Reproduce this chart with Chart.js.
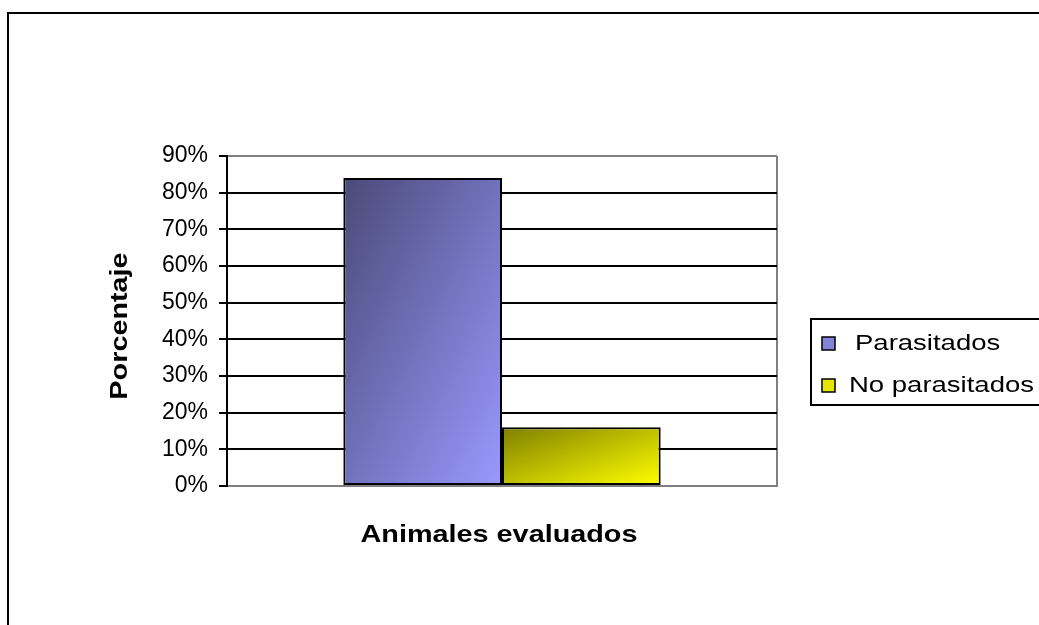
<!DOCTYPE html>
<html>
<head>
<meta charset="utf-8">
<script src="https://cdn.jsdelivr.net/npm/chart.js@4/dist/chart.umd.min.js"></script>
<style>
  html, body { margin: 0; padding: 0; background: #fff; }
  /* marco exterior del gráfico */
  #marco { position: absolute; left: 7px; top: 12px; width: 1100px; height: 700px; border: 2px solid #000; }
  #grafico { position: absolute; left: 0; top: 0; }
</style>
</head>
<body>
<div id="marco"></div>
<canvas id="grafico" width="1039" height="625"></canvas>
<script>
// Datos: porcentaje de animales parasitados y no parasitados
const categorias = [''];
const series = ['Parasitados', 'No parasitados'];
const porcentajes = [84, 16];
const escalaY = { min: 0, max: 90, paso: 10 };
const tituloX = 'Animales evaluados';
const tituloY = 'Porcentaje';

// degradado de cada barra: oscuro arriba-izquierda, claro abajo-derecha
const degradados = [['#4a4a78', '#9999ff'], ['#7f7f00', '#ffff00']];
const muestras = ['#8585d8', '#e6e600'];

Chart.defaults.font.family = "'Liberation Sans', Arial, sans-serif";
Chart.defaults.color = '#000';

// aplica el degradado diagonal a cada barra ya posicionada
const degradadoBarras = {
    id: 'degradadoBarras',
    afterDatasetsUpdate(chart) {
        const ctx = chart.ctx;
        chart.data.datasets.forEach((ds, i) => {
            chart.getDatasetMeta(i).data.forEach(bar => {
                const left = bar.x - bar.width / 2;
                const top = bar.y;
                const w = bar.width;
                const h = bar.base - bar.y;
                const k = 2 * w * h / (w * w + h * h);
                const g = ctx.createLinearGradient(left, top, left + h * k, top + w * k);
                g.addColorStop(0, degradados[i][0]);
                g.addColorStop(1, degradados[i][1]);
                bar.options = Object.assign({}, bar.options, { backgroundColor: g });
            });
        });
    }
};

// texto algo ensanchado en la dirección de escritura
function textoAncho(ctx, texto, x, y, giro, ancho) {
    ctx.save();
    ctx.translate(x, y);
    ctx.rotate(giro);
    ctx.scale(ancho, 1);
    ctx.fillText(texto, 0, 0);
    ctx.restore();
}

// títulos de ejes y leyenda con recuadro a la derecha
const leyendaYTitulos = {
    id: 'leyendaYTitulos',
    afterDraw(chart) {
        const ctx = chart.ctx;
        const area = chart.chartArea;
        ctx.save();
        ctx.fillStyle = '#000';
        ctx.textBaseline = 'middle';

        ctx.font = "bold 24px 'Liberation Sans', Arial, sans-serif";
        ctx.textAlign = 'center';
        textoAncho(ctx, tituloX, (area.left + area.right) / 2 - 3, 535, 0, 1.2);
        textoAncho(ctx, tituloY, 120, 326, -Math.PI / 2, 1.2);

        // recuadro de la leyenda
        ctx.lineWidth = 2;
        ctx.strokeStyle = '#000';
        ctx.strokeRect(811, 319, 240, 86);

        ctx.font = "22px 'Liberation Sans', Arial, sans-serif";
        ctx.textAlign = 'left';
        chart.data.datasets.forEach((ds, i) => {
            const yc = 343 + i * 42;
            ctx.fillStyle = muestras[i];
            ctx.fillRect(822, yc - 6, 13, 13);
            ctx.lineWidth = 1.5;
            ctx.strokeRect(822, yc - 6, 13, 13);
            ctx.fillStyle = '#000';
            textoAncho(ctx, ds.label, i === 0 ? 855 : 849, yc + 1, 0, 1.25);
        });
        ctx.restore();
    }
};

new Chart(document.getElementById('grafico'), {
    type: 'bar',
    data: {
        labels: categorias,
        datasets: series.map((nombre, i) => ({
            label: nombre,
            data: [porcentajes[i]],
            backgroundColor: muestras[i],
            borderColor: '#000',
            borderWidth: 2,
            borderSkipped: false
        }))
    },
    options: {
        responsive: false,
        animation: false,
        layout: { padding: { top: 156, right: 262, bottom: 0, left: 0 } },
        datasets: { bar: { categoryPercentage: 0.577, barPercentage: 1 } },
        plugins: {
            legend: { display: false },
            tooltip: { enabled: false }
        },
        scales: {
            x: {
                ticks: { display: false },
                grid: { color: '#808080', lineWidth: 2, drawTicks: false },
                border: { color: '#808080', width: 2 },
                afterFit: s => { s.height = 139; }
            },
            y: {
                min: escalaY.min,
                max: escalaY.max,
                ticks: {
                    stepSize: escalaY.paso,
                    padding: 11,
                    font: { size: 23 },
                    callback: v => v + '%'
                },
                grid: {
                    color: c => (c.index === 0 || c.index === 9) ? '#808080' : '#000',
                    lineWidth: 2,
                    tickColor: '#000',
                    tickLength: 8
                },
                border: { color: '#000', width: 2 },
                afterFit: s => { s.width = 227; }
            }
        }
    },
    plugins: [degradadoBarras, leyendaYTitulos]
});
</script>
</body>
</html>
